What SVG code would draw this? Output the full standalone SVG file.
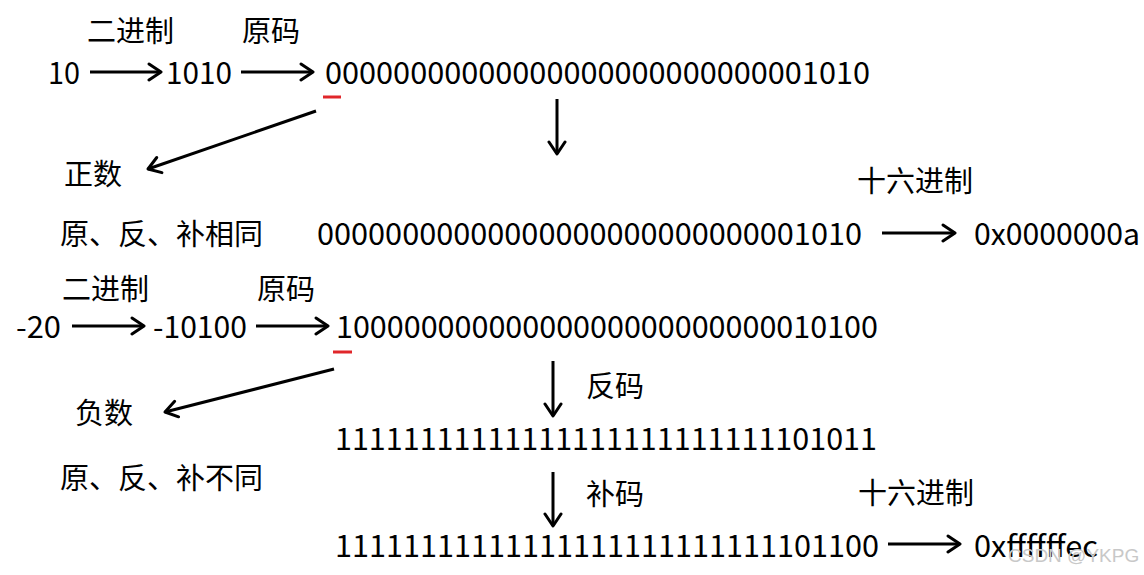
<svg xmlns="http://www.w3.org/2000/svg" width="1144" height="575" viewBox="0 0 1144 575">
<style>
text { font-family: "Noto Sans CJK SC", "Noto Sans", sans-serif; fill: #000; }
.num { font-size: 30px; }
.cn { font-size: 29px; }
.wm { font-size: 19px; fill: #c8c8c8; font-family: "Liberation Sans", "Noto Sans", sans-serif; }
.conn { stroke: #000; stroke-width: 3; fill: none; marker-end: url(#arr); }
.red { stroke: #e0262a; stroke-width: 3; }
</style>
<defs>
<marker id="arr" viewBox="0 0 16 20" refX="14" refY="10" markerWidth="16" markerHeight="20" markerUnits="userSpaceOnUse" orient="auto">
<path d="M2,2 L14,10 L2,18" fill="none" stroke="#000" stroke-width="3" stroke-linecap="round" stroke-linejoin="round"/>
</marker>
</defs>
<rect width="1144" height="575" fill="#fff"/>

<g id="connectors">
<line class="conn" x1="90" y1="72" x2="161" y2="72"/>
<line class="conn" x1="241" y1="72" x2="313" y2="72"/>
<line class="conn" x1="557" y1="99" x2="557" y2="154"/>
<line class="conn" x1="316" y1="111" x2="148" y2="169"/>
<line class="conn" x1="882" y1="233" x2="955" y2="233"/>
<line class="conn" x1="72" y1="326" x2="144" y2="326"/>
<line class="conn" x1="256" y1="326" x2="328" y2="326"/>
<line class="conn" x1="334" y1="369" x2="165" y2="412"/>
<line class="conn" x1="553" y1="361" x2="553" y2="416"/>
<line class="conn" x1="553" y1="472" x2="553" y2="526"/>
<line class="conn" x1="888" y1="544" x2="960" y2="544"/>
</g>

<g id="marks">
<line class="red" x1="323" y1="97" x2="341" y2="97"/>
<line class="red" x1="333" y1="352" x2="352" y2="352"/>
</g>

<g id="pos-label-bin"><text class="cn" x="87" y="42">二进制</text></g>
<g id="pos-label-orig"><text class="cn" x="242" y="42">原码</text></g>
<g id="pos-10"><text class="num" x="48" y="84" textLength="32" lengthAdjust="spacingAndGlyphs">10</text></g>
<g id="pos-1010"><text class="num" x="166" y="84" textLength="66" lengthAdjust="spacingAndGlyphs">1010</text></g>
<g id="pos-orig"><text class="num" x="325" y="84" textLength="545" lengthAdjust="spacingAndGlyphs">00000000000000000000000000001010</text></g>
<g id="pos-sign"><text class="cn" x="64" y="185">正数</text></g>
<g id="pos-hex-label"><text class="cn" x="857" y="192">十六进制</text></g>
<g id="pos-same"><text class="cn" x="60" y="245">原、反、补相同</text></g>
<g id="pos-comp"><text class="num" x="317" y="245" textLength="545" lengthAdjust="spacingAndGlyphs">00000000000000000000000000001010</text></g>
<g id="pos-hex"><text class="num" x="974" y="245" textLength="166" lengthAdjust="spacingAndGlyphs">0x0000000a</text></g>

<g id="neg-label-bin"><text class="cn" x="62" y="300">二进制</text></g>
<g id="neg-label-orig"><text class="cn" x="257" y="300">原码</text></g>
<g id="neg-20"><text class="num" x="16" y="338" textLength="45" lengthAdjust="spacingAndGlyphs">-20</text></g>
<g id="neg-10100"><text class="num" x="153" y="338" textLength="94" lengthAdjust="spacingAndGlyphs">-10100</text></g>
<g id="neg-orig"><text class="num" x="336" y="338" textLength="542" lengthAdjust="spacingAndGlyphs">10000000000000000000000000010100</text></g>
<g id="neg-sign"><text class="cn" x="75" y="424">负数</text></g>
<g id="neg-inv-label"><text class="cn" x="586" y="397">反码</text></g>
<g id="neg-inv"><text class="num" x="335" y="450" textLength="542" lengthAdjust="spacingAndGlyphs">11111111111111111111111111101011</text></g>
<g id="neg-diff"><text class="cn" x="60" y="489">原、反、补不同</text></g>
<g id="neg-comp-label"><text class="cn" x="586" y="505">补码</text></g>
<g id="neg-hex-label"><text class="cn" x="858" y="504">十六进制</text></g>
<g id="neg-comp"><text class="num" x="335" y="557" textLength="544" lengthAdjust="spacingAndGlyphs">11111111111111111111111111101100</text></g>
<g id="neg-hex"><text class="num" x="974" y="557" textLength="124" lengthAdjust="spacingAndGlyphs">0xffffffec</text></g>

<text class="wm" x="1008" y="562">CSDN @YKPG</text>
</svg>
